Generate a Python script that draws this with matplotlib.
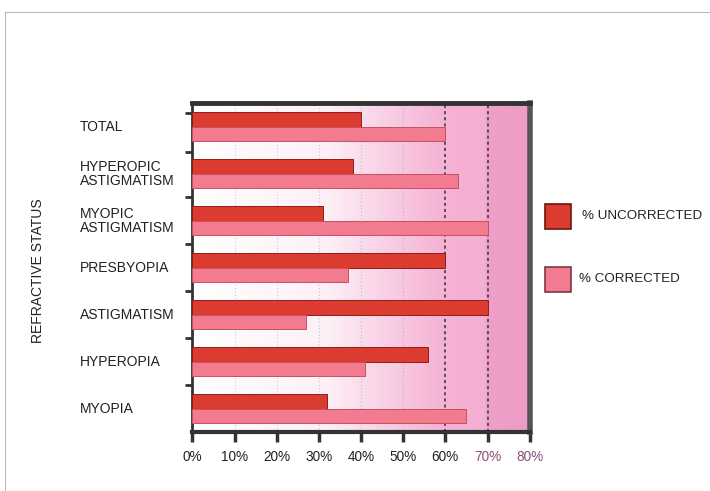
import matplotlib.pyplot as plt
import numpy as np
from matplotlib.colors import LinearSegmentedColormap
from matplotlib.patches import Rectangle
from matplotlib.lines import Line2D
import matplotlib.transforms as mtransforms

plt.rcParams['font.family'] = ['Liberation Sans', 'DejaVu Sans']

categories = ['TOTAL', 'HYPEROPIC\nASTIGMATISM', 'MYOPIC\nASTIGMATISM', 'PRESBYOPIA',
              'ASTIGMATISM', 'HYPEROPIA', 'MYOPIA']
uncorrected = [40, 38, 31, 60, 70, 56, 32]
corrected = [60, 63, 70, 37, 27, 41, 65]
x_ticks = [0, 10, 20, 30, 40, 50, 60, 70, 80]
x_tick_labels = ['0%', '10%', '20%', '30%', '40%', '50%', '60%', '70%', '80%']

RED = '#dc3b2f'
PINK = '#f27b90'
TEXT = '#222222'

fig = plt.figure(figsize=(7.1, 4.91), dpi=100)
ax = fig.add_axes([0.271, 0.12, 0.475, 0.67])

# background wash: white on the left fading into pink on the right
bg = LinearSegmentedColormap.from_list(
    'wash', [(0.0, '#ffffff'), (0.4, '#fdf0f6'), (0.55, '#f9d4e7'),
             (0.74, '#f5b3d5'), (0.87, '#f4aed2'), (0.875, '#efa0c8'), (1.0, '#ec9cc6')])
ramp = np.linspace(0, 1, 400).reshape(1, -1)
ax.imshow(ramp, cmap=bg, aspect='auto', extent=(0, 80, 6.5, -0.5), zorder=0)

# grid lines
for gx in [10, 20, 30, 40, 50]:
    ax.axvline(gx, color='#8a9ccc', lw=0.8, ls=(0, (1, 2)), alpha=0.5, zorder=1)
for gx in [60, 70]:
    ax.axvline(gx, color='#333333', lw=1.1, ls=(0, (2, 2)), zorder=1)

y = np.arange(len(categories))
h = 0.31
ax.barh(y - h / 2, uncorrected, height=h, color=RED, edgecolor='#8e1e1a', lw=0.7, zorder=3)
ax.barh(y + h / 2, corrected, height=h, color=PINK, edgecolor='#c8505f', lw=0.7, zorder=3)

ax.set_xlim(0, 80)
ax.set_ylim(6.5, -0.5)

ax.set_xticks(x_ticks)
ax.set_xticklabels(x_tick_labels, fontsize=9.8, color=TEXT)
for lbl in ax.get_xticklabels()[-2:]:
    lbl.set_color('#8c4f7a')
ax.tick_params(axis='x', direction='out', length=7, width=2.5, color='#333333', pad=6)

ax.set_yticks([-0.3, 0.55, 1.5, 2.5, 3.5, 4.5, 5.5])
ax.set_yticklabels([])
ax.tick_params(axis='y', direction='out', length=5, width=2, color='#333333')

for side, lw, col in [('top', 3.5, '#333333'), ('right', 4, '#555555'),
                      ('bottom', 3, '#333333'), ('left', 2, '#333333')]:
    ax.spines[side].set_linewidth(lw)
    ax.spines[side].set_color(col)

# category names, left aligned in the margin
trans = mtransforms.blended_transform_factory(fig.transFigure, ax.transData)
for i, name in enumerate(categories):
    ax.text(80 / 710, i, name, transform=trans, ha='left', va='center',
            fontsize=10, color=TEXT, linespacing=1.0)

fig.text(38 / 710, 1 - 271 / 491, 'REFRACTIVE STATUS', rotation=90, ha='center',
         va='center', fontsize=10, color=TEXT)

# legend swatches
for (ytop, col, edge, label, tx) in [(204, RED, '#6a1612', '% UNCORRECTED', 582),
                                    (267, PINK, '#7a3a44', '% CORRECTED', 579)]:
    fig.patches.append(Rectangle((545 / 710, 1 - (ytop + 25) / 491), 26 / 710, 25 / 491,
                                 transform=fig.transFigure, facecolor=col,
                                 edgecolor=edge, lw=1.2))
    fig.text(tx / 710, 1 - (ytop + 12) / 491, label, ha='left', va='center',
             fontsize=9.6, color=TEXT)

# thin page border
fig.add_artist(Line2D([5 / 710, 1], [1 - 12 / 491, 1 - 12 / 491], color='#b8b8b8', lw=0.8))
fig.add_artist(Line2D([5 / 710, 5 / 710], [1 - 12 / 491, 0], color='#b8b8b8', lw=0.8))

fig.savefig('out.png', dpi=100)
